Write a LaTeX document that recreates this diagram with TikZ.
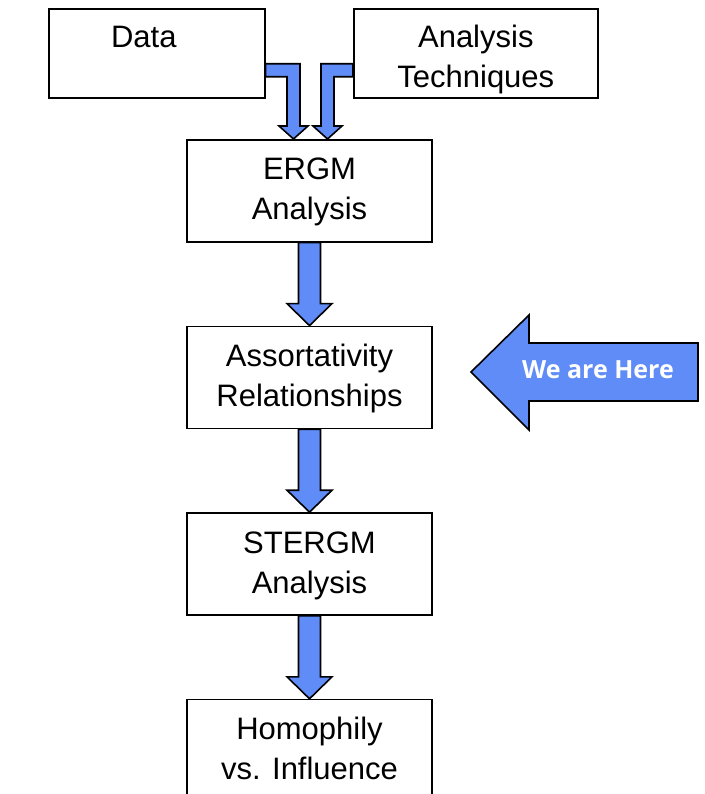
\documentclass[tikz,border=0pt]{standalone}
\usepackage{fontspec}
\setmainfont{Liberation Sans}
\newfontfamily\herefont{Open Sans}
\usetikzlibrary{positioning,calc}
\definecolor{arrowblue}{RGB}{96,140,248}

\begin{document}
\begin{tikzpicture}[x=1pt, y=1pt,
        stage/.style={draw, line width=1.6pt, align=center, inner sep=0pt,
            font=\fontsize{31}{40}\selectfont, text height=80pt, text depth=22pt,
            minimum width=245pt},
        blockarrow/.style={draw, line width=1.6pt, fill=arrowblue, line join=miter},
        node distance=83pt]
        \useasboundingbox (0,0) rectangle (704,-794);
        \clip (0,0) rectangle (704,-794);

        % the two inputs
        \node[stage, anchor=north west, text height=39pt, text depth=50pt, minimum width=216pt] (data) at (48,-8) {Data\hspace*{26pt}};
        \node[stage, anchor=north west, text height=79pt, text depth=10pt, minimum width=244pt] (tech) at (353,-8) {Analysis\\Techniques};

        % the chain
        \node[stage, anchor=north] (ergm) at (309.5,-139) {ERGM\\Analysis};
        \node[stage, below=of ergm] (assort) {Assortativity\\Relationships};
        \node[stage, below=of assort] (stergm) {STERGM\\Analysis};
        \node[stage, below=of stergm] (homoph) {Homophily\\vs. Influence};

        % elbow arrows into ERGM
        \coordinate (tipL) at ($(ergm.north)+(-16,0)$);
        \coordinate (tipR) at ($(ergm.north)+(18,0)$);
        \draw[blockarrow] ($(data.east)+(0,-10.5)$) -| ($(tipL)+(6.5,13)$) -- ++(8,0) -- (tipL)
            -- ++(-14.5,13) -- ++(8,0) |- ($(data.east)+(0,-23.5)$) -- cycle;
        \draw[blockarrow] ($(tech.west)+(0,-10.5)$) -| ($(tipR)+(-6.5,13)$) -- ++(-8,0) -- (tipR)
            -- ++(14.5,13) -- ++(-8,0) |- ($(tech.west)+(0,-23.5)$) -- cycle;

        % straight arrows down the chain
        \draw[blockarrow] ($(ergm.south)+(-11,0)$) -- ($(assort.north)+(-11,22)$) -- ++(-11.5,0) -- (assort.north)
            -- ($(assort.north)+(22.5,22)$) -- ++(-11.5,0) -- ($(ergm.south)+(11,0)$) -- cycle;
        \draw[blockarrow] ($(assort.south)+(-11,0)$) -- ($(stergm.north)+(-11,22)$) -- ++(-11.5,0) -- (stergm.north)
            -- ($(stergm.north)+(22.5,22)$) -- ++(-11.5,0) -- ($(assort.south)+(11,0)$) -- cycle;
        \draw[blockarrow] ($(stergm.south)+(-11,0)$) -- ($(homoph.north)+(-11,22)$) -- ++(-11.5,0) -- (homoph.north)
            -- ($(homoph.north)+(22.5,22)$) -- ++(-11.5,0) -- ($(stergm.south)+(11,0)$) -- cycle;

        % marker
        \draw[blockarrow] (471,-372) -- (529,-315) -- (529,-343) -- (698,-343) -- (698,-401)
            -- (529,-401) -- (529,-430) -- cycle;
        \node[text=white, font=\herefont\bfseries\fontsize{25}{28}\selectfont] (here) at (598,-370) {We are Here};
    \end{tikzpicture}
\end{document}
